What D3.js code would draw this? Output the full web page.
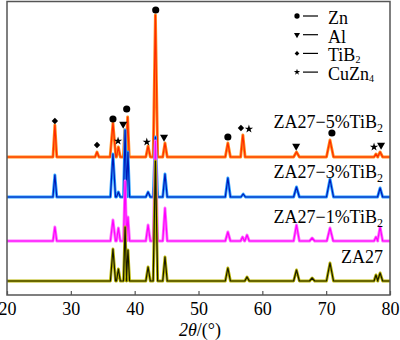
<!DOCTYPE html>
<html>
<head>
<meta charset="utf-8">
<script src="https://cdn.jsdelivr.net/npm/d3@7/dist/d3.min.js"></script>
<style>
  html, body { margin: 0; padding: 0; background: #fff; }
  svg { display: block; }
  svg text { font-family: "Liberation Serif", "Times New Roman", Times, serif; fill: #000; }
</style>
</head>
<body>
<svg id="chart" width="400" height="340"></svg>
<script>
const SERIF = "'Liberation Serif', 'Times New Roman', Times, serif";

// 2θ range and ticks
const xTicks = [20, 30, 40, 50, 60, 70, 80];

// Sample names, stacking offsets (a.u.) and colours (outer, core)
const sampleNames = ["ZA27", "ZA27−1%TiB", "ZA27−3%TiB", "ZA27−5%TiB"];
const sampleSubs = ["", "2", "2", "2"];
const sampleOffsets = [14, 54, 98, 138];
const outerColors = ["#b8b400", "#ff70ff", "#2aa0ff", "#ff8c1a"];
const coreColors = ["#1a1a00", "#ff00ff", "#0018b8", "#ff2a00"];

// Diffraction peaks per sample: [2θ, intensity above baseline, half base width]
const peaksZA27 = [
  [36.6, 32, 0.4], [37.45, 12, 0.3], [38.5, 54, 0.25], [38.95, 31, 0.25],
  [42.1, 14, 0.35], [43.25, 120, 0.35], [44.75, 24, 0.35], [54.6, 13, 0.4],
  [57.6, 4, 0.35], [65.35, 11, 0.45], [67.8, 3, 0.4], [70.6, 18, 0.55],
  [77.8, 6, 0.3], [78.45, 8, 0.4]
];
const peaks1TiB2 = [
  [27.5, 14, 0.3], [36.6, 21, 0.4], [37.45, 13, 0.3], [38.5, 60, 0.25],
  [38.95, 24, 0.25], [42.1, 16, 0.35], [43.25, 100, 0.35], [44.75, 33, 0.35],
  [54.6, 9, 0.4], [56.9, 4, 0.3], [57.6, 6, 0.35], [65.35, 16, 0.45],
  [67.8, 3, 0.4], [70.6, 13, 0.5], [77.8, 4, 0.3], [78.45, 14, 0.4]
];
const peaks3TiB2 = [
  [27.5, 22, 0.3], [36.6, 43, 0.4], [37.45, 5, 0.3], [38.5, 67, 0.25],
  [38.95, 45, 0.25], [42.1, 5, 0.35], [43.25, 60, 0.35], [44.75, 23, 0.35],
  [54.6, 19, 0.4], [57.0, 3, 0.35], [65.35, 10, 0.45], [70.6, 18, 0.55],
  [78.45, 9, 0.4]
];
const peaks5TiB2 = [
  [27.5, 32, 0.3], [34.1, 5, 0.3], [36.6, 34, 0.45], [37.45, 10, 0.3],
  [38.45, 27, 0.22], [38.9, 40, 0.25], [42.1, 11, 0.35], [43.25, 142, 0.35],
  [44.75, 14, 0.35], [54.6, 14, 0.4], [56.95, 22, 0.35], [65.35, 5, 0.45],
  [70.6, 17, 0.55], [77.8, 3, 0.3], [78.45, 5, 0.4]
];
const samplePeaks = [peaksZA27, peaks1TiB2, peaks3TiB2, peaks5TiB2];

// Phase markers above the ZA27−5%TiB2 pattern: [2θ, level (a.u.), phase]
const phaseMarks = [
  [27.5, 174, "TiB2"], [34.1, 150, "TiB2"], [36.6, 176, "Zn"], [37.4, 154, "CuZn4"],
  [38.2, 171, "Al"], [38.75, 186, "Zn"], [41.9, 153, "CuZn4"], [43.3, 285, "Zn"],
  [44.6, 158, "Al"], [54.6, 158, "Zn"], [56.65, 167, "TiB2"], [57.9, 166, "CuZn4"],
  [65.3, 149, "Al"], [70.9, 162, "Zn"], [77.5, 148, "CuZn4"], [78.6, 150, "Al"]
];

// Legend entries
const legendPhases = ["Zn", "Al", "TiB2", "CuZn4"];
const legendText = ["Zn", "Al", "TiB", "CuZn"];
const legendSubs = ["", "", "2", "4"];

const svg = d3.select("#chart");
const x = d3.scaleLinear().domain([20, 80]).range([7, 390]);
const y = d3.scaleLinear().domain([0, 293.5]).range([295, 1.5]);

// Marker shapes per phase
const symbolFor = {
  Zn: { type: d3.symbolCircle, size: 40, rot: 0 },
  Al: { type: d3.symbolTriangle, size: 28, rot: 180 },
  TiB2: { type: d3.symbolDiamond2, size: 26, rot: 0 },
  CuZn4: { type: d3.symbolStar, size: 22, rot: 0 }
};

// Profile vertices: baseline with triangular peaks
function profile(peaks, offset) {
  const pts = [[20, offset]];
  peaks.forEach(([p, h, w]) => {
    pts.push([p - w, offset], [p, offset + h], [p + w, offset]);
  });
  pts.push([80, offset]);
  return pts;
}

const line = d3.line().x(d => x(d[0])).y(d => y(d[1]));

const plot = svg.append("g");
// Top pattern first; lower patterns are drawn over it
[3, 2, 1, 0].forEach(i => {
  const pts = profile(samplePeaks[i], sampleOffsets[i]);
  plot.append("path").attr("d", line(pts)).attr("fill", "none")
    .attr("stroke", outerColors[i]).attr("stroke-width", 2.9)
    .attr("stroke-linejoin", "round");
  plot.append("path").attr("d", line(pts)).attr("fill", "none")
    .attr("stroke", coreColors[i]).attr("stroke-width", 1.2)
    .attr("stroke-linejoin", "round");
});

// Phase markers
svg.append("g").selectAll("path").data(phaseMarks).join("path")
  .attr("d", d => d3.symbol(symbolFor[d[2]].type, symbolFor[d[2]].size)())
  .attr("transform", d => `translate(${x(d[0])},${y(d[1])}) rotate(${symbolFor[d[2]].rot})`)
  .attr("fill", "#000");

// Frame
svg.append("rect").attr("x", x(20)).attr("y", y(293.5))
  .attr("width", x(80) - x(20)).attr("height", y(0) - y(293.5))
  .attr("fill", "none").attr("stroke", "#555").attr("stroke-width", 1.5);

// Bottom axis with inward ticks
const axis = d3.axisBottom(x).tickValues(xTicks).tickSize(-4).tickPadding(8).tickFormat(d3.format("d"));
const ax = svg.append("g").attr("transform", `translate(0,${y(0)})`).call(axis)
  .attr("font-family", SERIF).attr("font-size", 18);
ax.select(".domain").remove();
ax.selectAll(".tick line").attr("stroke", "#555").attr("stroke-width", 1.2);
ax.selectAll(".tick text").attr("font-family", SERIF).attr("font-size", 18).attr("y", 7).attr("dy", "0.71em");

// Axis title
const title = svg.append("text").attr("x", 200).attr("y", 336).attr("text-anchor", "middle")
  .attr("font-family", SERIF).attr("font-size", 18);
title.append("tspan").attr("font-style", "italic").text("2θ");
title.append("tspan").text("/(°)");

// Sample labels, right aligned above each pattern
const labelBaselines = [263, 223, 178, 128];
sampleNames.forEach((name, i) => {
  const t = svg.append("text").attr("x", 383).attr("y", labelBaselines[i])
    .attr("text-anchor", "end").attr("font-family", SERIF).attr("font-size", 18);
  t.append("tspan").text(name);
  if (sampleSubs[i]) t.append("tspan").attr("font-size", 12).attr("dy", 4).text(sampleSubs[i]);
});

// Legend
const lg = svg.append("g");
legendPhases.forEach((ph, i) => {
  const cy = 16 + i * 18.7;
  const s = symbolFor[ph];
  lg.append("path").attr("d", d3.symbol(s.type, s.size * 0.55)())
    .attr("transform", `translate(297,${cy}) rotate(${s.rot})`).attr("fill", "#000");
  lg.append("line").attr("x1", 303).attr("x2", 318).attr("y1", cy).attr("y2", cy)
    .attr("stroke", "#000").attr("stroke-width", 1.2);
  const t = lg.append("text").attr("x", 328).attr("y", cy + 8)
    .attr("font-family", SERIF).attr("font-size", 18);
  t.append("tspan").text(legendText[i]);
  if (legendSubs[i]) t.append("tspan").attr("font-size", 10).attr("dy", 2).text(legendSubs[i]);
});
</script>
</body>
</html>
